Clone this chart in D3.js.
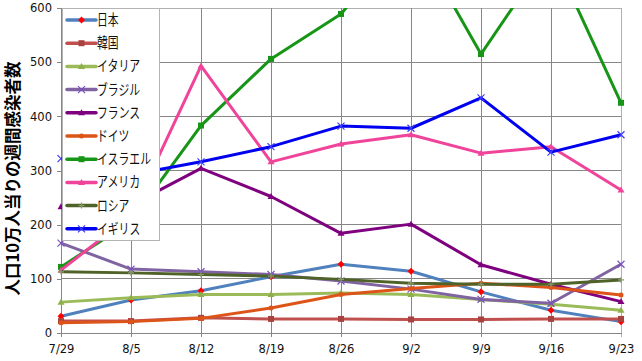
<!DOCTYPE html>
<html>
<head>
<meta charset="utf-8">
<script src="https://cdn.jsdelivr.net/npm/d3@7"></script>
<style>
  body { margin: 0; background: #fff; }
  svg { display: block; }
  .tick text { font-family: "DejaVu Sans", Verdana, sans-serif; font-size: 11.5px; fill: #111; }
</style>
</head>
<body>
<div id="chart"></div>
<script>
const dates = ['7/29', '8/5', '8/12', '8/19', '8/26', '9/2', '9/9', '9/16', '9/23']
const yTicks = [0, 100, 200, 300, 400, 500, 600]

const japan   = [31, 61, 78, 104, 127, 114, 76, 42, 21]
const korea   = [22, 22, 28, 26, 26, 25, 25, 26, 26]
const italy   = [57, 65, 71, 71, 74, 71, 62, 53, 42]
const brazil  = [166, 118, 113, 108, 96, 81, 62, 55, 127]
const france  = [233, 236, 304, 252, 184, 201, 126, 90, 58]
const germany = [19, 21, 27, 46, 71, 82, 92, 84, 70]
const israel  = [122, 206, 383, 506, 589, 742, 515, 705, 425]
const usa     = [116, 217, 493, 316, 349, 366, 332, 344, 264]
const russia  = [113, 111, 108, 105, 99, 92, 90, 90, 98]
const uk      = [322, 292, 316, 344, 382, 378, 434, 334, 366]

const series = [
    { name: '日本', values: japan, color: '#4F81BD', marker: 'diamond', markerColor: '#FF0000' },
    { name: '韓国', values: korea, color: '#C0504D', marker: 'square', markerColor: '#A8423F' },
    { name: 'イタリア', values: italy, color: '#9BBB59', marker: 'triangle', markerColor: '#8DB04A' },
    { name: 'ブラジル', values: brazil, color: '#8064A2', marker: 'cross', markerColor: '#7A4FC0' },
    { name: 'フランス', values: france, color: '#7F007F', marker: 'triangle', markerColor: '#7F007F' },
    { name: 'ドイツ', values: germany, color: '#DD5418', marker: 'circle', markerColor: '#DD5418' },
    { name: 'イスラエル', values: israel, color: '#179517', marker: 'square', markerColor: '#179517' },
    { name: 'アメリカ', values: usa, color: '#F0449A', marker: 'triangle', markerColor: '#F0449A' },
    { name: 'ロシア', values: russia, color: '#4F6228', marker: 'plus', markerColor: '#8A9A70' },
    { name: 'イギリス', values: uk, color: '#0000F0', marker: 'cross', markerColor: '#3C3CFF' }
]

const W = 642, H = 361
const margin = { left: 61, right: 21, top: 8, bottom: 28 }

const svg = d3.select('#chart').append('svg')
    .attr('width', W)
    .attr('height', H)

const x = d3.scalePoint()
    .domain(dates)
    .range([margin.left, W - margin.right])

const y = d3.scaleLinear()
    .domain([0, 600])
    .range([H - margin.bottom, margin.top])

// grid
svg.append('g')
    .selectAll('line.hgrid')
    .data(yTicks)
    .join('line')
    .attr('x1', margin.left).attr('x2', W - margin.right)
    .attr('y1', d => y(d)).attr('y2', d => y(d))
    .attr('stroke', d => d === 600 ? '#b0b0b0' : '#868686')
    .attr('shape-rendering', 'crispEdges')

svg.append('g')
    .selectAll('line.vgrid')
    .data(dates)
    .join('line')
    .attr('x1', d => x(d)).attr('x2', d => x(d))
    .attr('y1', y(600)).attr('y2', y(0) + 4)
    .attr('stroke', (d, i) => i === dates.length - 1 ? '#b0b0b0' : '#868686')
    .attr('shape-rendering', 'crispEdges')

// axes
const yAxis = d3.axisLeft(y).tickValues(yTicks).tickSize(4).tickPadding(5)
svg.append('g')
    .attr('transform', `translate(${margin.left},0)`)
    .call(yAxis)
    .call(g => g.selectAll('path, line').attr('stroke', '#868686').attr('shape-rendering', 'crispEdges'))

const xAxis = d3.axisBottom(x).tickSize(0).tickPadding(12)
svg.append('g')
    .attr('transform', `translate(0,${y(0)})`)
    .call(xAxis)
    .call(g => g.select('path.domain').attr('stroke', '#868686').attr('shape-rendering', 'crispEdges'))

// y title
svg.append('text')
    .attr('transform', `translate(19,${(y(0) + y(600)) / 2 + 8}) rotate(-90)`)
    .attr('text-anchor', 'middle')
    .style('font-family', '"Noto Sans CJK JP", sans-serif')
    .style('font-size', '16.5px')
    .style('font-weight', 'bold')
    .text('人口10万人当りの週間感染者数')

// clip for off-chart values
svg.append('clipPath').attr('id', 'plotclip')
    .append('rect')
    .attr('x', margin.left - 6).attr('y', margin.top)
    .attr('width', W - margin.left - margin.right + 12)
    .attr('height', H - margin.top - margin.bottom + 6)

const line = d3.line()
    .x((d, i) => x(dates[i]))
    .y(d => y(d))

function drawMarker(g, type, color, cx, cy) {
    const s = 3.5
    if (type === 'diamond') {
        g.append('path').attr('d', `M${cx},${cy - s}L${cx + s},${cy}L${cx},${cy + s}L${cx - s},${cy}Z`).attr('fill', color)
    } else if (type === 'square') {
        g.append('rect').attr('x', cx - 3).attr('y', cy - 3).attr('width', 6).attr('height', 6).attr('fill', color)
    } else if (type === 'triangle') {
        g.append('path').attr('d', `M${cx},${cy - s}L${cx + s},${cy + 2.5}L${cx - s},${cy + 2.5}Z`).attr('fill', color)
    } else if (type === 'circle') {
        g.append('circle').attr('cx', cx).attr('cy', cy).attr('r', 2.5).attr('fill', color)
    } else if (type === 'cross') {
        g.append('path').attr('d', `M${cx - s},${cy - s}L${cx + s},${cy + s}M${cx - s},${cy + s}L${cx + s},${cy - s}`)
            .attr('stroke', color).attr('stroke-width', 1.2)
    } else if (type === 'plus') {
        g.append('path').attr('d', `M${cx - 3},${cy}L${cx + 3},${cy}M${cx},${cy - 3}L${cx},${cy + 3}`)
            .attr('stroke', color).attr('stroke-width', 1.2)
    }
}

const plot = svg.append('g').attr('clip-path', 'url(#plotclip)')

series.forEach(s => {
    const g = plot.append('g')
    g.append('path')
        .datum(s.values)
        .attr('d', line)
        .attr('fill', 'none')
        .attr('stroke', s.color)
        .attr('stroke-width', 3)
        .attr('stroke-linejoin', 'round')
    s.values.forEach((v, i) => drawMarker(g, s.marker, s.markerColor, x(dates[i]), y(v)))
})

// legend
const legend = svg.append('g')
legend.append('rect')
    .attr('x', 62.5).attr('y', 8.5)
    .attr('width', 97).attr('height', 232)
    .attr('fill', '#fff')
    .attr('stroke', '#b4b4b4')

series.forEach((s, i) => {
    const ly = 20 + i * 23.2
    const g = legend.append('g')
    g.append('line')
        .attr('x1', 67).attr('x2', 96)
        .attr('y1', ly).attr('y2', ly)
        .attr('stroke', s.color).attr('stroke-width', 3.5)
        .attr('stroke-linecap', 'round')
    drawMarker(g, s.marker, s.markerColor, 81.5, ly)
    g.append('text')
        .attr('x', 97).attr('y', ly + 5)
        .style('font-family', '"Noto Sans CJK JP", sans-serif')
        .style('font-size', '14.5px')
        .attr('fill', '#111')
        .attr('textLength', s.name.length * 10.8)
        .attr('lengthAdjust', 'spacingAndGlyphs')
        .text(s.name)
})
</script>
</body>
</html>
